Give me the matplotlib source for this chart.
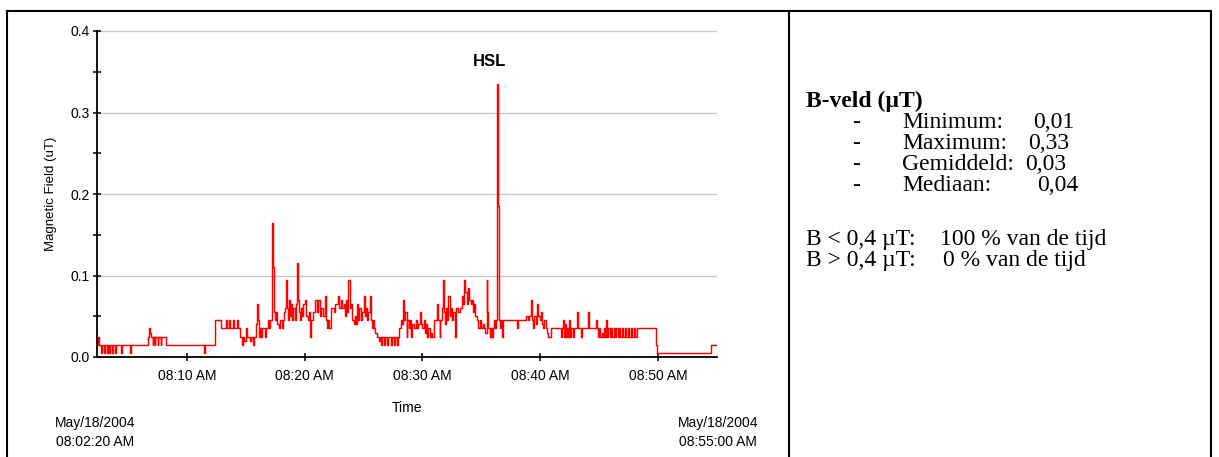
import datetime as dt
import matplotlib
matplotlib.use("Agg")
import matplotlib.pyplot as plt
import matplotlib.dates as mdates
from matplotlib.lines import Line2D
from matplotlib.ticker import MultipleLocator, FormatStrFormatter

# minutes after 08:00 where the reading changes, and the reading from there on (uT)
minutes = [
    2.333, 2.45, 2.55, 2.70, 2.78, 2.95, 3.03, 3.20, 3.28, 3.40, 3.50, 3.62, 3.70, 3.90, 3.98, 4.40, 4.48, 5.15, 5.25,
    6.68, 6.75, 6.85, 6.95, 7.10, 7.17, 7.27, 7.33, 7.52, 7.58, 7.78, 7.85, 8.20, 11.50, 11.58,
    12.40, 12.90, 13.30, 13.38, 13.62, 13.70, 13.95, 14.03, 14.25, 14.33, 14.55, 14.65, 14.73, 14.85, 15.00, 15.08, 15.35, 15.45, 15.60, 15.70,
    15.85, 15.95, 16.05, 16.13, 16.22, 16.30, 16.40, 16.60, 16.68, 16.85, 16.95, 17.10, 17.22, 17.30, 17.38, 17.48, 17.58, 17.68, 17.80, 17.90,
    18.05, 18.15, 18.25, 18.35, 18.42, 18.50, 18.60, 18.68, 18.78, 18.88, 18.95, 19.05, 19.15, 19.25, 19.33, 19.42, 19.50, 19.60, 19.70, 19.80,
    19.90, 20.05, 20.15, 20.25, 20.35, 20.45, 20.55, 20.70, 20.85, 21.05, 21.15, 21.30, 21.40, 21.55, 21.70, 21.80, 21.90, 22.00, 22.10, 22.20,
    22.45, 22.60, 22.80, 22.90, 23.05, 23.15, 23.30, 23.40, 23.50, 23.60, 23.72, 23.85, 23.95, 24.05, 24.15, 24.25, 24.35, 24.45, 24.55, 24.65,
    24.75, 24.90, 25.00, 25.10, 25.20, 25.30, 25.40, 25.52, 25.60, 25.70, 25.80, 25.90, 26.00, 26.15, 26.30, 26.40, 26.50, 26.60, 26.75, 26.85,
    27.00, 27.10, 27.30, 27.40, 27.55, 27.65, 27.85, 27.95, 28.05, 28.15, 28.25, 28.35, 28.45, 28.55, 28.65, 28.73, 28.85, 28.95, 29.05, 29.13,
    29.30, 29.45, 29.55, 29.65, 29.80, 29.90, 30.00, 30.12, 30.22, 30.30, 30.40, 30.50, 30.60, 30.70, 30.80, 30.95, 31.20, 31.30, 31.45, 31.52,
    31.65, 31.72, 31.80, 31.90, 32.00, 32.10, 32.20, 32.30, 32.40, 32.50, 32.60, 32.75, 32.85, 33.05, 33.20, 33.35, 33.45, 33.55, 33.65, 33.75,
    33.85, 33.95, 34.10, 34.20, 34.30, 34.40, 34.50, 34.60, 34.75, 34.85, 34.95, 35.10, 35.20, 35.35, 35.45, 35.52, 35.60, 35.70, 35.78, 35.88,
    35.96, 36.05, 36.15, 36.25, 36.33, 36.42, 36.50, 36.58, 36.68, 36.75, 36.83, 38.00, 38.08, 38.75, 38.95, 39.05, 39.18, 39.28, 39.38, 39.48,
    39.60, 39.72, 39.82, 39.95, 40.05, 40.15, 40.25, 40.35, 40.45, 40.55, 40.65, 40.95, 41.80, 41.88, 41.95, 42.03, 42.12, 42.20, 42.28, 42.38,
    42.46, 42.55, 42.65, 42.78, 42.88, 43.15, 43.22, 43.45, 43.55, 44.05, 44.12, 44.70, 44.78, 44.88, 44.98, 45.08, 45.20, 45.30, 45.40, 45.50,
    45.60, 45.68, 45.78, 45.88, 46.00, 46.10, 46.22, 46.35, 46.45, 46.58, 46.68, 46.80, 46.92, 47.05, 47.20, 47.30, 47.45, 47.55, 47.70, 47.80,
    47.95, 48.05, 48.20, 49.82, 49.92, 54.50, 55.00,
]
field = [
    .015, .025, .015, .005, .015, .005, .015, .005, .015, .005, .015, .005, .015, .005, .015, .005, .015, .005, .015,
    .025, .035, .030, .025, .015, .025, .015, .025, .015, .025, .015, .025, .015, .005, .015,
    .045, .035, .045, .035, .045, .035, .045, .035, .045, .035, .025, .015, .025, .020, .035, .025, .020, .025, .015, .025,
    .040, .065, .045, .025, .035, .025, .035, .025, .035, .045, .035, .045, .165, .110, .055, .045, .055, .040, .035, .045,
    .035, .045, .055, .060, .095, .060, .045, .070, .050, .065, .045, .060, .045, .065, .115, .070, .055, .045, .060, .050,
    .065, .070, .050, .045, .055, .025, .045, .055, .070, .055, .070, .050, .060, .050, .075, .045, .035, .045, .035, .060,
    .055, .065, .075, .060, .070, .060, .065, .050, .070, .055, .095, .060, .065, .045, .040, .050, .040, .065, .045, .060,
    .045, .055, .075, .050, .060, .045, .055, .075, .045, .035, .045, .035, .030, .025, .020, .025, .015, .025, .015, .025,
    .015, .025, .015, .025, .015, .025, .015, .025, .035, .045, .040, .070, .045, .055, .025, .045, .035, .045, .025, .040,
    .035, .045, .035, .040, .055, .040, .035, .045, .030, .040, .025, .035, .025, .030, .025, .045, .065, .045, .025, .045,
    .060, .095, .055, .040, .060, .045, .075, .050, .060, .045, .055, .025, .060, .055, .060, .075, .065, .095, .080, .065,
    .085, .070, .065, .070, .055, .065, .050, .045, .035, .045, .035, .040, .035, .030, .095, .055, .035, .025, .035, .025,
    .035, .045, .035, .045, .335, .185, .045, .035, .045, .025, .045, .035, .045, .050, .045, .050, .070, .045, .035, .050,
    .040, .065, .050, .045, .055, .040, .035, .045, .035, .030, .025, .035, .025, .035, .045, .025, .040, .025, .035, .025,
    .045, .025, .035, .025, .035, .055, .035, .025, .035, .055, .035, .045, .035, .025, .035, .025, .030, .025, .035, .025,
    .045, .025, .035, .025, .035, .025, .035, .025, .035, .025, .035, .025, .035, .025, .035, .025, .035, .025, .035, .025,
    .035, .025, .035, .015, .005, .015, .015,
]

y_ticks = [0.0, 0.1, 0.2, 0.3, 0.4]
stat_names = ["Minimum:", "Maximum:", "Gemiddeld:", "Mediaan:"]
stat_values = ["0,01", "0,33", "0,03", "0,04"]
share_labels = ["B < 0,4 \u00b5T:", "B > 0,4 \u00b5T:"]
share_values = ["100 % van de tijd", "0 % van de tijd"]

W, H = 1219, 457
plt.rcParams["font.family"] = ["Liberation Sans", "DejaVu Sans"]
fig = plt.figure(figsize=(W / 100, H / 100), dpi=100)


def fx(px):
    return px / W


def fy(py):
    return 1 - py / H


base = dt.datetime(2004, 5, 18, 8, 0)
times = [base + dt.timedelta(minutes=m) for m in minutes]

ax = fig.add_axes([fx(96.5), fy(357), fx(717) - fx(96.5), fy(31) - fy(357)])
ax.step(times, field, where="post", color="#ff0000", lw=1.05)
ax.set_xlim(base + dt.timedelta(minutes=2, seconds=20), base + dt.timedelta(minutes=55))
ax.set_ylim(0, 0.4)
ax.set_yticks(y_ticks)
ax.yaxis.set_minor_locator(MultipleLocator(0.05))
ax.yaxis.set_major_formatter(FormatStrFormatter("%.1f"))
ax.xaxis.set_major_locator(mdates.MinuteLocator(byminute=[10, 20, 30, 40, 50]))
ax.xaxis.set_major_formatter(mdates.DateFormatter("%I:%M %p"))
ax.grid(axis="y", color="#c8c8c8", lw=1.0)
ax.set_axisbelow(True)
for s in ["top", "right"]:
    ax.spines[s].set_visible(False)
for s in ["left", "bottom"]:
    ax.spines[s].set_linewidth(1.3)
ax.tick_params(axis="both", which="both", direction="inout", length=6, width=1.1, labelsize=10)
ax.tick_params(axis="x", pad=6)
ax.tick_params(axis="y", pad=2)

fig.text(fx(51), fy(194), "Magnetic Field (uT)", rotation=90, ha="center", va="center", fontsize=9.5)
fig.text(fx(407), fy(412), "Time", ha="center", va="baseline", fontsize=10)
fig.text(fx(95), fy(427), "May/18/2004", ha="center", va="baseline", fontsize=10)
fig.text(fx(95), fy(446), "08:02:20 AM", ha="center", va="baseline", fontsize=10)
fig.text(fx(718), fy(427), "May/18/2004", ha="center", va="baseline", fontsize=10)
fig.text(fx(718), fy(446), "08:55:00 AM", ha="center", va="baseline", fontsize=10)
fig.text(fx(490), fy(65.7), "HSL", ha="center", va="baseline", fontsize=12, fontweight="bold")

# table borders
for xs, ys in [([7.3, 1211], [10.7, 10.7]), ([7.3, 7.3], [10.7, 460]),
               ([789, 789], [10.7, 460]), ([1211, 1211], [10.7, 460])]:
    fig.add_artist(Line2D([fx(x) for x in xs], [fy(y) for y in ys], color="black", lw=1.5))

serif = ["Liberation Serif", "DejaVu Serif"]
fs = 17
fig.text(fx(806), fy(106.7), "B-veld (\u00b5T)", family=serif, fontsize=fs, fontweight="bold", va="baseline")
stat_x = [1033, 1028, 1025, 1037]
for i, (name, val) in enumerate(zip(stat_names, stat_values)):
    yb = 128.3 + i * 20.8
    fig.text(fx(852), fy(yb), "-", family=serif, fontsize=fs, va="baseline")
    fig.text(fx(902), fy(yb), name, family=serif, fontsize=fs, va="baseline")
    fig.text(fx(stat_x[i]), fy(yb), val, family=serif, fontsize=fs, va="baseline")
share_x = [940, 943]
for i, (lab, val) in enumerate(zip(share_labels, share_values)):
    yb = 245 + i * 20.7
    fig.text(fx(806), fy(yb), lab, family=serif, fontsize=fs, va="baseline")
    fig.text(fx(share_x[i]), fy(yb), val, family=serif, fontsize=fs, va="baseline")

fig.savefig("out.png", dpi=100)
